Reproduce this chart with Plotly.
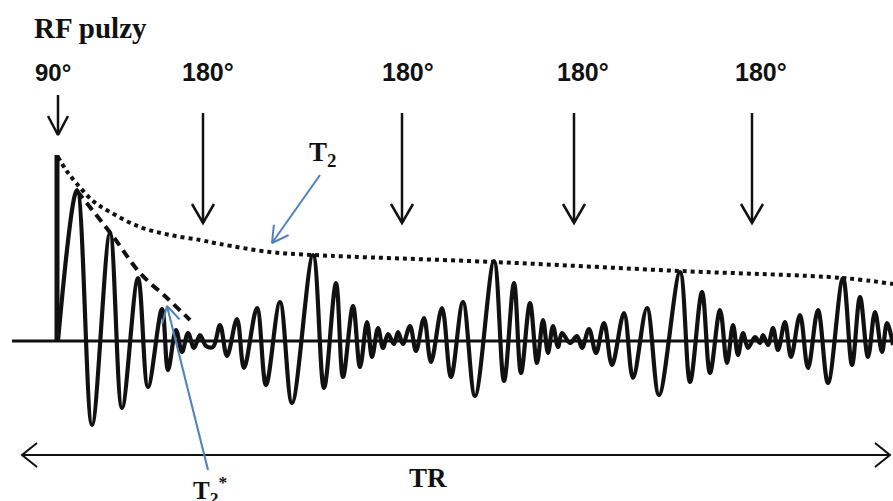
import numpy as np
import plotly.graph_objects as go

# ---------------- data (diagram units: x = time, y = drawing height, inverted) -------------
baseline_y = 341
baseline_x = [12, 893]

pulse90_x = 57
pulse90_top = 155

# signal extrema (FID + three echoes)
sig_x = [58, 77, 92, 110, 122, 138, 148, 162, 168, 176, 182, 188, 194, 200, 206, 213, 220, 227, 237,
         244, 257, 266, 280, 292, 313, 324, 336, 343, 353, 360, 367, 372, 378, 383, 388, 394, 398,
         403, 410, 416, 424, 431, 442, 451, 463, 475, 494, 504, 514, 521, 530, 537, 543, 548, 553,
         558, 562, 570, 577, 582, 589, 596, 604, 612, 624, 633, 647, 659, 680, 690, 702, 710, 720,
         727, 733, 738, 743, 748, 755, 760, 763, 768, 773, 778, 785, 791, 800, 808, 818, 828, 843,
         852, 860, 868, 875, 882, 887, 893]
sig_y = [341, 190, 425, 233, 408, 278, 387, 309, 370, 330, 352, 333, 348, 335, 346, 347, 325, 356, 319,
         368, 308, 385, 302, 403, 255, 388, 283, 377, 306, 367, 322, 357, 328, 348, 334, 344, 332,
         344, 326, 351, 318, 362, 308, 377, 302, 396, 261, 381, 283, 373, 303, 363, 320, 353, 326,
         347, 333, 343, 336, 348, 329, 353, 323, 365, 313, 378, 308, 395, 272, 382, 292, 373, 310,
         363, 325, 355, 333, 348, 337, 343, 335, 345, 328, 350, 322, 357, 315, 368, 310, 383, 278,
         365, 297, 357, 312, 352, 323, 345]

# T2 envelope (dotted) and T2* envelope (dashed)
t2_x = [58, 66, 77, 93, 110, 140, 170, 200, 220, 270, 313, 494, 680, 843, 893]
t2_y = [157, 170, 184, 201, 212, 227, 235, 240, 244, 252, 255, 262, 271, 278, 284]
t2s_x = [77, 112, 140, 167, 190]
t2s_y = [191, 235, 273, 298, 320]

# RF pulse arrows
pulse180_x = [203, 402, 574, 752]
pulse180_top, pulse180_tip = 113, 223
pulse90_arrow_top, pulse90_arrow_tip = 95, 135

# labels
rf_title = "RF pulzy"
label90 = "90°"
label180 = "180°"
label180_x = [208, 408, 583, 761]
label_y = 72

# TR arrow
tr_x = [22, 890]
tr_y = 455

# blue pointer arrows: (tail, tip)
t2_ptr = [(320, 175), (272, 243)]
t2s_ptr = [(208, 470), (167, 306)]

BLACK = "#111111"
BLUE = "#4F81BD"

fig = go.Figure()


def line(xs, ys, color=BLACK, width=3, dash=None, shape="linear"):
    fig.add_trace(go.Scatter(x=xs, y=ys, mode="lines", hoverinfo="skip",
                             line=dict(color=color, width=width, dash=dash, shape=shape,
                                       smoothing=1.0)))


def head(tail, tip, length, half, color=BLACK, width=3):
    d = np.array(tip, float) - np.array(tail, float)
    d /= np.linalg.norm(d)
    n = np.array([-d[1], d[0]])
    tip = np.array(tip, float)
    a = tip - d * length + n * half
    b = tip - d * length - n * half
    line([a[0], tip[0], b[0]], [a[1], tip[1], b[1]], color=color, width=width)


# baseline
line(baseline_x, [baseline_y, baseline_y], width=3)
# 90 pulse bar
line([pulse90_x, pulse90_x], [baseline_y, pulse90_top], width=5)
# signal
line(sig_x, sig_y, width=4.2, shape="spline")
# envelopes
line(t2_x, t2_y, width=4, dash="dot", shape="spline")
line(t2s_x, t2s_y, width=4, dash="9px,6px", shape="spline")

# 90 arrow
line([pulse90_x + 1, pulse90_x + 1], [pulse90_arrow_top, pulse90_arrow_tip], width=2.5)
head((pulse90_x + 1, pulse90_arrow_top), (pulse90_x + 1, pulse90_arrow_tip), 19, 10, width=2.5)
# 180 arrows
for px in pulse180_x:
    line([px, px], [pulse180_top, pulse180_tip], width=2.5)
    head((px, pulse180_top), (px, pulse180_tip), 19, 11, width=2.5)

# TR double arrow
line(tr_x, [tr_y, tr_y], width=2)
head((tr_x[1], tr_y), (tr_x[0], tr_y), 15, 12, width=2)
head((tr_x[0], tr_y), (tr_x[1], tr_y), 15, 12, width=2)

# blue pointers
for tail, tip in (t2_ptr, t2s_ptr):
    line([tail[0], tip[0]], [tail[1], tip[1]], color=BLUE, width=2)
    head(tail, tip, 16, 9, color=BLUE, width=2)

ann = []
ann.append(dict(x=32, y=28, text="<b>" + rf_title + "</b>", xanchor="left", yanchor="middle",
                font=dict(family="Liberation Serif", size=29, color=BLACK)))
ann.append(dict(x=53, y=label_y, text="<b>" + label90 + "</b>", xanchor="center", yanchor="middle",
                font=dict(family="Liberation Sans", size=24, color=BLACK)))
for lx in label180_x:
    ann.append(dict(x=lx, y=label_y, text="<b>" + label180 + "</b>", xanchor="center",
                    yanchor="middle", font=dict(family="Liberation Sans", size=25, color=BLACK)))
ann.append(dict(x=322, y=154, text="<b>T<sub>2</sub></b>", xanchor="center", yanchor="middle",
                font=dict(family="Liberation Serif", size=27, color=BLACK)))
ann.append(dict(x=428, y=478, text="<b>TR</b>", xanchor="center", yanchor="middle",
                font=dict(family="Liberation Serif", size=27, color=BLACK)))
ann.append(dict(x=210, y=490, text="<b>T<sub>2</sub><sup>*</sup></b>", xanchor="center",
                yanchor="middle", font=dict(family="Liberation Serif", size=25, color=BLACK)))
for a in ann:
    a.update(xref="x", yref="y", showarrow=False)

fig.update_layout(
    width=893, height=501, margin=dict(l=0, r=0, t=0, b=0),
    paper_bgcolor="white", plot_bgcolor="white", showlegend=False,
    xaxis=dict(range=[0, 893], visible=False, fixedrange=True),
    yaxis=dict(range=[501, 0], visible=False, fixedrange=True),
    annotations=ann,
)

fig.write_html("out.html", config={"displayModeBar": False},
               post_script="document.body.style.margin='0px';document.body.style.overflow='hidden';")
